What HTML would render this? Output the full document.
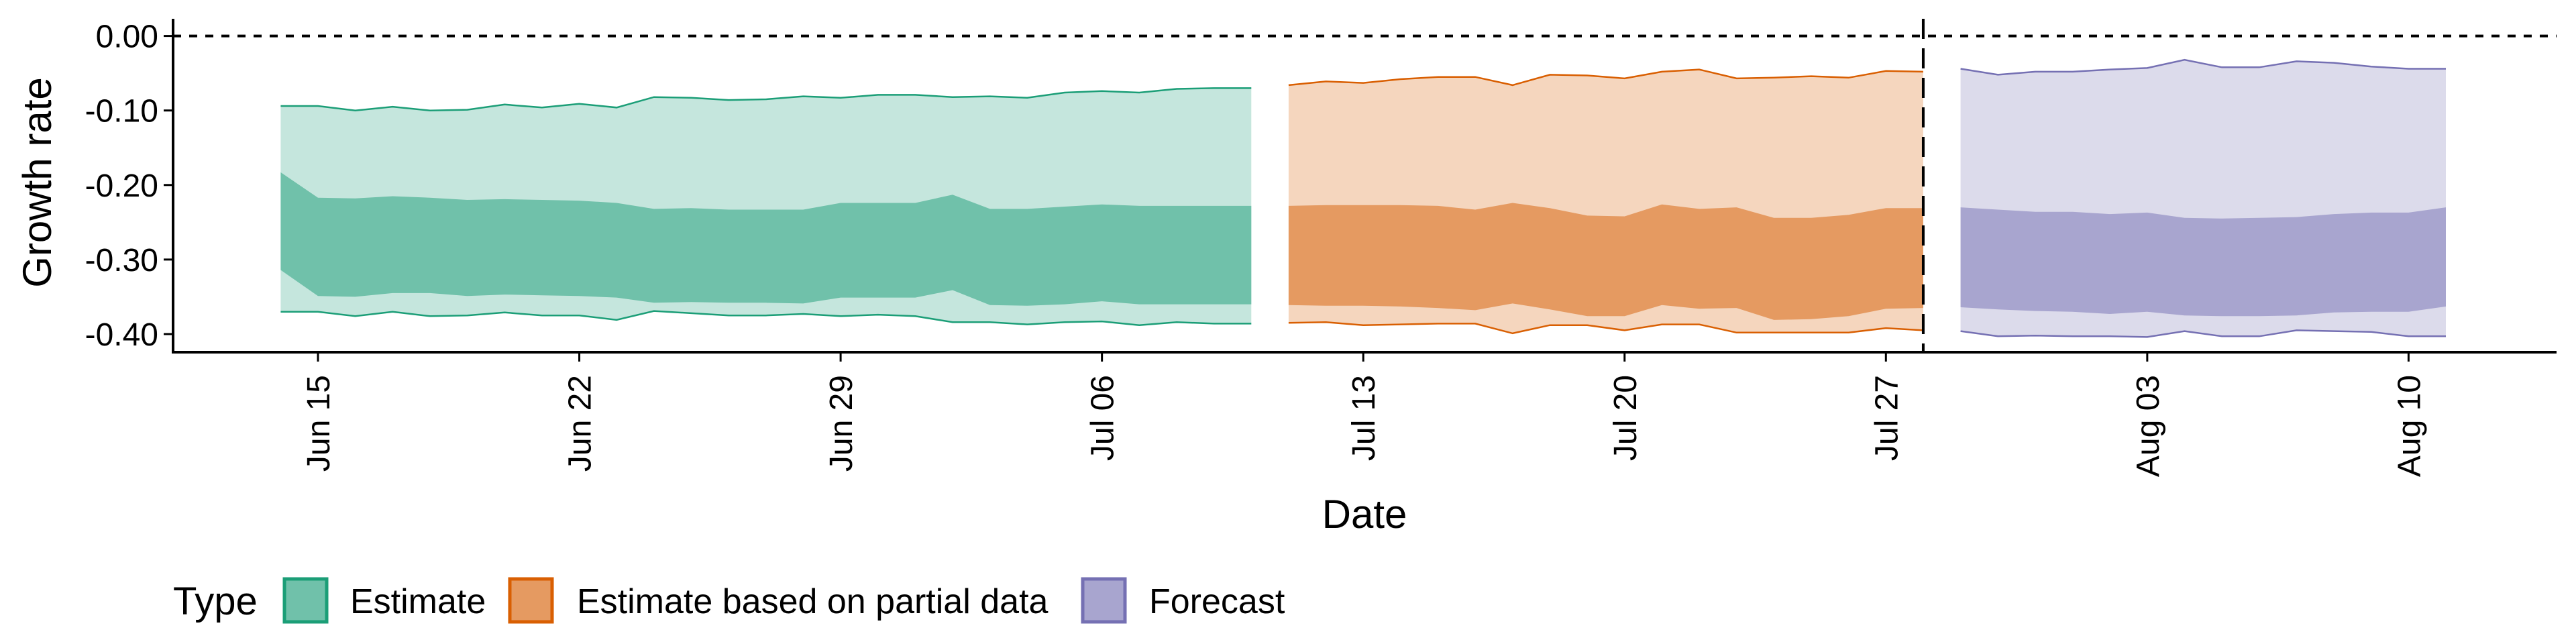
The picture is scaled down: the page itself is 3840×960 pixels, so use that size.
<!DOCTYPE html>
<html><head><meta charset="utf-8"><style>
html,body{margin:0;padding:0;background:#fff;}
svg{display:block;font-family:"Liberation Sans",sans-serif;}
</style></head><body>
<svg id="chart" width="3840" height="960" viewBox="0 0 3840 960" xmlns="http://www.w3.org/2000/svg">
<g id="bands"></g>
<g id="axes"></g>
<g id="legend">
  <text x="258" y="916" font-size="58" fill="#000">Type</text>
  <g>
    <rect x="424" y="863" width="63" height="64" fill="#70C1AA" stroke="#1B9E77" stroke-width="5"/>
    <text x="522" y="914" font-size="52" fill="#000">Estimate</text>
  </g>
  <g>
    <rect x="760" y="863" width="63" height="64" fill="#E59A61" stroke="#D95F02" stroke-width="5"/>
    <text x="860" y="914" font-size="52" fill="#000">Estimate based on partial data</text>
  </g>
  <g>
    <rect x="1614" y="863" width="63" height="64" fill="#A8A5CF" stroke="#7570B3" stroke-width="5"/>
    <text x="1713" y="914" font-size="52" fill="#000">Forecast</text>
  </g>
</g>
</svg>
<script>
// day offsets from Jun 15
const estDays = [-1,0,1,2,3,4,5,6,7,8,9,10,11,12,13,14,15,16,17,18,19,20,21,22,23,24,25];
const estHi90 = [-0.094,-0.094,-0.100,-0.095,-0.100,-0.099,-0.092,-0.096,-0.091,-0.096,-0.082,-0.083,-0.086,-0.085,-0.081,-0.083,-0.079,-0.079,-0.082,-0.081,-0.083,-0.076,-0.074,-0.076,-0.071,-0.070,-0.070];
const estHi50 = [-0.183,-0.217,-0.218,-0.215,-0.217,-0.220,-0.219,-0.220,-0.221,-0.224,-0.232,-0.231,-0.233,-0.233,-0.233,-0.224,-0.224,-0.224,-0.213,-0.232,-0.232,-0.229,-0.226,-0.228,-0.228,-0.228,-0.228];
const estLo50 = [-0.314,-0.349,-0.350,-0.345,-0.345,-0.349,-0.347,-0.348,-0.349,-0.351,-0.358,-0.357,-0.358,-0.358,-0.359,-0.351,-0.351,-0.351,-0.341,-0.361,-0.362,-0.360,-0.356,-0.360,-0.360,-0.360,-0.360];
const estLo90 = [-0.370,-0.370,-0.376,-0.370,-0.376,-0.375,-0.371,-0.375,-0.375,-0.381,-0.369,-0.372,-0.375,-0.375,-0.373,-0.376,-0.374,-0.376,-0.384,-0.384,-0.387,-0.384,-0.383,-0.388,-0.384,-0.386,-0.386];
const parDays = [26,27,28,29,30,31,32,33,34,35,36,37,38,39,40,41,42,43];
const parHi90 = [-0.066,-0.061,-0.063,-0.058,-0.055,-0.055,-0.066,-0.052,-0.053,-0.057,-0.048,-0.045,-0.057,-0.056,-0.054,-0.056,-0.047,-0.048];
const parHi50 = [-0.228,-0.227,-0.227,-0.227,-0.228,-0.233,-0.224,-0.231,-0.241,-0.242,-0.226,-0.232,-0.230,-0.244,-0.244,-0.240,-0.231,-0.231];
const parLo50 = [-0.361,-0.362,-0.362,-0.363,-0.365,-0.368,-0.359,-0.367,-0.376,-0.376,-0.361,-0.366,-0.365,-0.381,-0.380,-0.376,-0.366,-0.365];
const parLo90 = [-0.385,-0.384,-0.388,-0.387,-0.386,-0.386,-0.399,-0.388,-0.388,-0.395,-0.387,-0.387,-0.398,-0.398,-0.398,-0.398,-0.392,-0.395];
const fcDays = [44,45,46,47,48,49,50,51,52,53,54,55,56,57];
const fcHi90 = [-0.044,-0.052,-0.048,-0.048,-0.045,-0.043,-0.032,-0.042,-0.042,-0.034,-0.036,-0.041,-0.044,-0.044];
const fcHi50 = [-0.230,-0.233,-0.236,-0.236,-0.239,-0.237,-0.244,-0.245,-0.244,-0.243,-0.239,-0.237,-0.237,-0.230];
const fcLo50 = [-0.364,-0.367,-0.369,-0.370,-0.373,-0.370,-0.375,-0.376,-0.376,-0.375,-0.371,-0.370,-0.370,-0.363];
const fcLo90 = [-0.396,-0.403,-0.402,-0.403,-0.403,-0.404,-0.396,-0.403,-0.403,-0.395,-0.396,-0.397,-0.403,-0.403];
const xTickDays = [0,7,14,21,28,35,42,49,56];
const xTickLabels = ["Jun 15","Jun 22","Jun 29","Jul 06","Jul 13","Jul 20","Jul 27","Aug 03","Aug 10"];
const yTicks = [0,-0.1,-0.2,-0.3,-0.4];
const yTickLabels = ["0.00","-0.10","-0.20","-0.30","-0.40"];
const forecastStartDay = 43;

const NS = "http://www.w3.org/2000/svg";
const X0 = 258, X1 = 3811, YTOP = 28, YBOT = 525;
function xs(d){ return 474 + d * 55.65; }
function ys(v){ return 53.6 - v * 1111; }
function mk(tag, attrs, parent){ const e = document.createElementNS(NS, tag); for (const k in attrs) e.setAttribute(k, attrs[k]); parent.appendChild(e); return e; }

const bands = document.getElementById('bands');
function band(days, hi, lo){ let p = ''; days.forEach((d,i)=>{ p += (i?'L':'M') + xs(d).toFixed(1) + ',' + ys(hi[i]).toFixed(1); }); for (let i=days.length-1;i>=0;i--) p += 'L' + xs(days[i]).toFixed(1) + ',' + ys(lo[i]).toFixed(1); return p + 'Z'; }
function line(days, vals){ return days.map((d,i)=>(i?'L':'M') + xs(d).toFixed(1) + ',' + ys(vals[i]).toFixed(1)).join(''); }
const series = [
  {name:'estimate', days:estDays, h9:estHi90, h5:estHi50, l5:estLo50, l9:estLo90, dark:'#1B9E77', mid:'#70C1AA', light:'#C5E6DD'},
  {name:'partial', days:parDays, h9:parHi90, h5:parHi50, l5:parLo50, l9:parLo90, dark:'#D95F02', mid:'#E59A61', light:'#F5D6BE'},
  {name:'forecast', days:fcDays, h9:fcHi90, h5:fcHi50, l5:fcLo50, l9:fcLo90, dark:'#7570B3', mid:'#A8A5CF', light:'#DCDBEB'}
];
series.forEach(s=>{
  const g = mk('g', {}, bands);
  
  
  const o = mk('path', {d: band(s.days, s.h9, s.l9), fill: s.light}, g);
  
  
  const m = mk('path', {d: band(s.days, s.h5, s.l5), fill: s.mid}, g);
  
  
  const u = mk('path', {d: line(s.days, s.h9), fill: 'none', stroke: s.dark, 'stroke-width': 2.5}, g);
  
  
  const l = mk('path', {d: line(s.days, s.l9), fill: 'none', stroke: s.dark, 'stroke-width': 2.5}, g);
  
  
});

const axes = document.getElementById('axes');
const zl = mk('line', {x1:X0, x2:X1, y1:ys(0), y2:ys(0), stroke:'#000', 'stroke-width':4, 'stroke-dasharray':'12,12'}, axes);


const vl = mk('line', {x1:xs(forecastStartDay), x2:xs(forecastStartDay), y1:YTOP, y2:YBOT, stroke:'#000', 'stroke-width':4, 'stroke-dasharray':'30,14'}, axes);


const ya = mk('line', {x1:X0, x2:X0, y1:YTOP, y2:YBOT+2, stroke:'#000', 'stroke-width':4}, axes);


const xa = mk('line', {x1:X0-2, x2:X1, y1:YBOT, y2:YBOT, stroke:'#000', 'stroke-width':4}, axes);


yTicks.forEach((v,i)=>{
  const t = mk('line', {x1:X0-14, x2:X0, y1:ys(v), y2:ys(v), stroke:'#000', 'stroke-width':3}, axes);
  
  
  const tx = mk('text', {x:X0-22, y:ys(v)+17, 'text-anchor':'end', 'font-size':48, fill:'#000'}, axes);
  tx.textContent = yTickLabels[i];
  
  
});
xTickDays.forEach((d,i)=>{
  const t = mk('line', {x1:xs(d), x2:xs(d), y1:YBOT, y2:YBOT+14, stroke:'#000', 'stroke-width':3}, axes);
  
  
  const tx = mk('text', {x:0, y:0, 'text-anchor':'end', 'font-size':48, fill:'#000', transform:'translate(' + (xs(d)+17) + ',' + (YBOT+34) + ') rotate(-90)'}, axes);
  tx.textContent = xTickLabels[i];
  
  
});
const xt = mk('text', {x:2034, y:787, 'text-anchor':'middle', 'font-size':60, fill:'#000'}, axes);
xt.textContent = 'Date';


const yt = mk('text', {x:0, y:0, 'text-anchor':'middle', 'font-size':60, fill:'#000', transform:'translate(76,272) rotate(-90)'}, axes);
yt.textContent = 'Growth rate';


</script>
</body></html>
